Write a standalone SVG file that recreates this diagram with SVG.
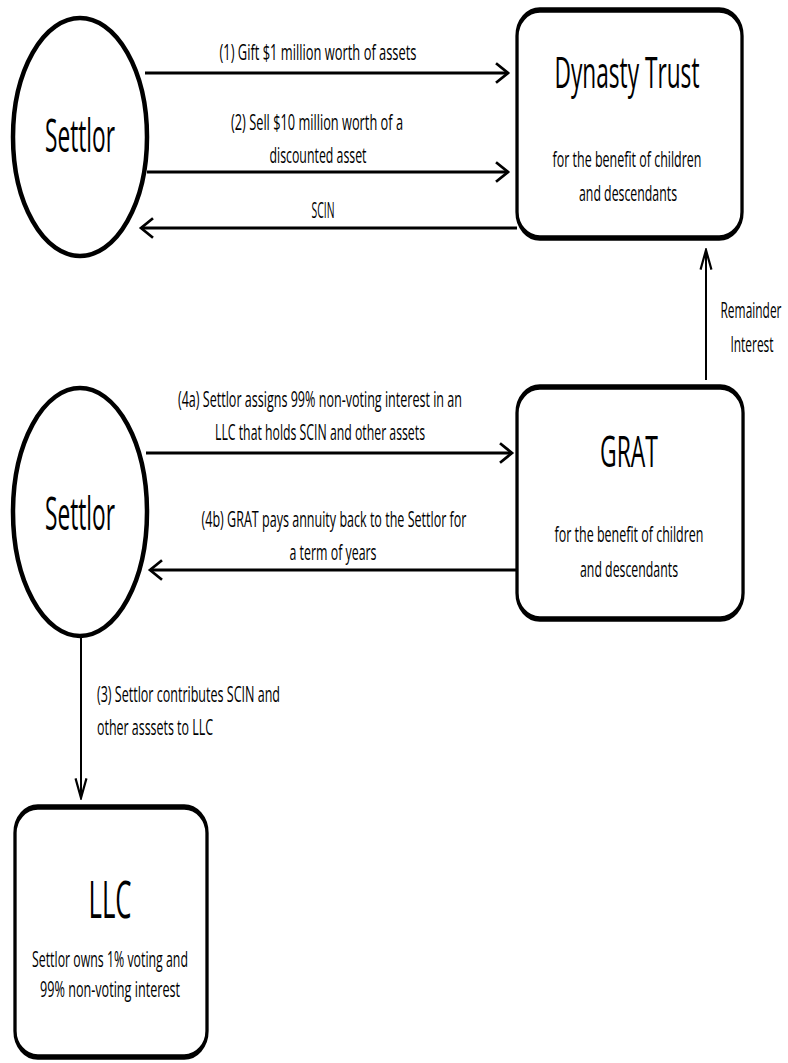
<svg xmlns="http://www.w3.org/2000/svg" width="788" height="1063" viewBox="0 0 788 1063">
<style>
text{font-family:"Open Sans","Liberation Sans",sans-serif;fill:#000;text-anchor:middle;}
.lbl{font-size:22px;}
.big{font-size:44px;}
.sub{font-size:22px;}
.node{fill:#fff;stroke:#000;}
.conn{fill:none;stroke:#000;}
.h{stroke-width:3;}
.v{stroke-width:2;}
</style>
<defs>
<marker id="arrH" markerUnits="userSpaceOnUse" markerWidth="20" markerHeight="24" viewBox="-13 -11 15 22" refX="0" refY="0" orient="auto">
<path d="M-11,-9 L0,0 L-11,9" fill="none" stroke="#000" stroke-width="2.5"/>
</marker>
<marker id="arrV" markerUnits="userSpaceOnUse" markerWidth="24" markerHeight="16" viewBox="-20 -7 22 14" refX="0" refY="0" orient="auto">
<path d="M-18,-5 L0,0 L-18,5" fill="none" stroke="#000" stroke-width="2"/>
</marker>
</defs>
<rect width="788" height="1063" fill="#fff"/>
<g id="connectors">
<line class="conn h" x1="145" y1="73" x2="508" y2="73" marker-end="url(#arrH)"/>
<line class="conn h" x1="147" y1="172" x2="508" y2="172" marker-end="url(#arrH)"/>
<line class="conn h" x1="517" y1="228" x2="141" y2="228" marker-end="url(#arrH)"/>
<line class="conn v" x1="706" y1="380" x2="706" y2="250" marker-end="url(#arrV)"/>
<line class="conn h" x1="146" y1="453" x2="512" y2="453" marker-end="url(#arrH)"/>
<line class="conn h" x1="518" y1="570" x2="150" y2="570" marker-end="url(#arrH)"/>
<line class="conn v" x1="81" y1="636" x2="81" y2="798" marker-end="url(#arrV)"/>
<text class="lbl" transform="translate(318,60) scale(0.62,1)" textLength="317.7" lengthAdjust="spacingAndGlyphs">(1) Gift $1 million worth of assets</text>
<text class="lbl" transform="translate(317,130) scale(0.62,1)" textLength="277.4" lengthAdjust="spacingAndGlyphs">(2) Sell $10 million worth of a</text>
<text class="lbl" transform="translate(318,163) scale(0.62,1)" textLength="156.5" lengthAdjust="spacingAndGlyphs">discounted asset</text>
<text class="lbl" transform="translate(323,218) scale(0.62,1)" textLength="37.1" lengthAdjust="spacingAndGlyphs">SCIN</text>
<text class="lbl" transform="translate(751,318) scale(0.62,1)" textLength="98.4" lengthAdjust="spacingAndGlyphs">Remainder</text>
<text class="lbl" transform="translate(752,352) scale(0.62,1)" textLength="69.4" lengthAdjust="spacingAndGlyphs">Interest</text>
<text class="lbl" transform="translate(320,407) scale(0.62,1)" textLength="458.1" lengthAdjust="spacingAndGlyphs">(4a) Settlor assigns 99% non-voting interest in an</text>
<text class="lbl" transform="translate(320,440) scale(0.62,1)" textLength="338.7" lengthAdjust="spacingAndGlyphs">LLC that holds SCIN and other assets</text>
<text class="lbl" transform="translate(334,527) scale(0.62,1)" textLength="427.4" lengthAdjust="spacingAndGlyphs">(4b) GRAT pays annuity back to the Settlor for</text>
<text class="lbl" transform="translate(333,560) scale(0.62,1)" textLength="140.3" lengthAdjust="spacingAndGlyphs">a term of years</text>
<text class="lbl" transform="translate(97,702) scale(0.62,1)" style="text-anchor:start" textLength="295.2" lengthAdjust="spacingAndGlyphs">(3) Settlor contributes SCIN and</text>
<text class="lbl" transform="translate(97,735) scale(0.62,1)" style="text-anchor:start" textLength="187.1" lengthAdjust="spacingAndGlyphs">other asssets to LLC</text>
</g>
<g id="settlor1">
<ellipse class="node" cx="80" cy="137" rx="67" ry="119" stroke-width="4.5"/>
<text class="big" transform="translate(80,152) scale(0.62,1)" style="font-size:46px" textLength="112.9" lengthAdjust="spacingAndGlyphs">Settlor</text>
</g>
<g id="dynasty">
<rect class="node" transform="scale(0.6,1)" x="861.7" y="10" width="375" height="228" rx="38" ry="26" stroke-width="5.5"/>
<text class="big" transform="translate(627,88) scale(0.62,1)" textLength="233.9" lengthAdjust="spacingAndGlyphs">Dynasty Trust</text>
<text class="sub" transform="translate(627,167) scale(0.62,1)" textLength="240.3" lengthAdjust="spacingAndGlyphs">for the benefit of children</text>
<text class="sub" transform="translate(628,201) scale(0.62,1)" textLength="158.1" lengthAdjust="spacingAndGlyphs">and descendants</text>
</g>
<g id="settlor2">
<ellipse class="node" cx="80" cy="512" rx="67" ry="124" stroke-width="4.5"/>
<text class="big" transform="translate(80,530) scale(0.62,1)" style="font-size:46px" textLength="112.9" lengthAdjust="spacingAndGlyphs">Settlor</text>
</g>
<g id="grat">
<rect class="node" transform="scale(0.6,1)" x="861.7" y="387" width="376.7" height="232" rx="38" ry="26" stroke-width="5.5"/>
<text class="big" transform="translate(629,467) scale(0.62,1)" textLength="93.5" lengthAdjust="spacingAndGlyphs">GRAT</text>
<text class="sub" transform="translate(629,542) scale(0.62,1)" textLength="240.3" lengthAdjust="spacingAndGlyphs">for the benefit of children</text>
<text class="sub" transform="translate(629,577) scale(0.62,1)" textLength="158.1" lengthAdjust="spacingAndGlyphs">and descendants</text>
</g>
<g id="llc">
<rect class="node" transform="scale(0.6,1)" x="25" y="807" width="320" height="250" rx="38" ry="26" stroke-width="5.5"/>
<text class="big" transform="translate(110,918) scale(0.62,1)" style="font-size:52px" textLength="69.4" lengthAdjust="spacingAndGlyphs">LLC</text>
<text class="sub" transform="translate(110,967) scale(0.62,1)" textLength="251.6" lengthAdjust="spacingAndGlyphs">Settlor owns 1% voting and</text>
<text class="sub" transform="translate(110,997) scale(0.62,1)" textLength="225.8" lengthAdjust="spacingAndGlyphs">99% non-voting interest</text>
</g>
</svg>
